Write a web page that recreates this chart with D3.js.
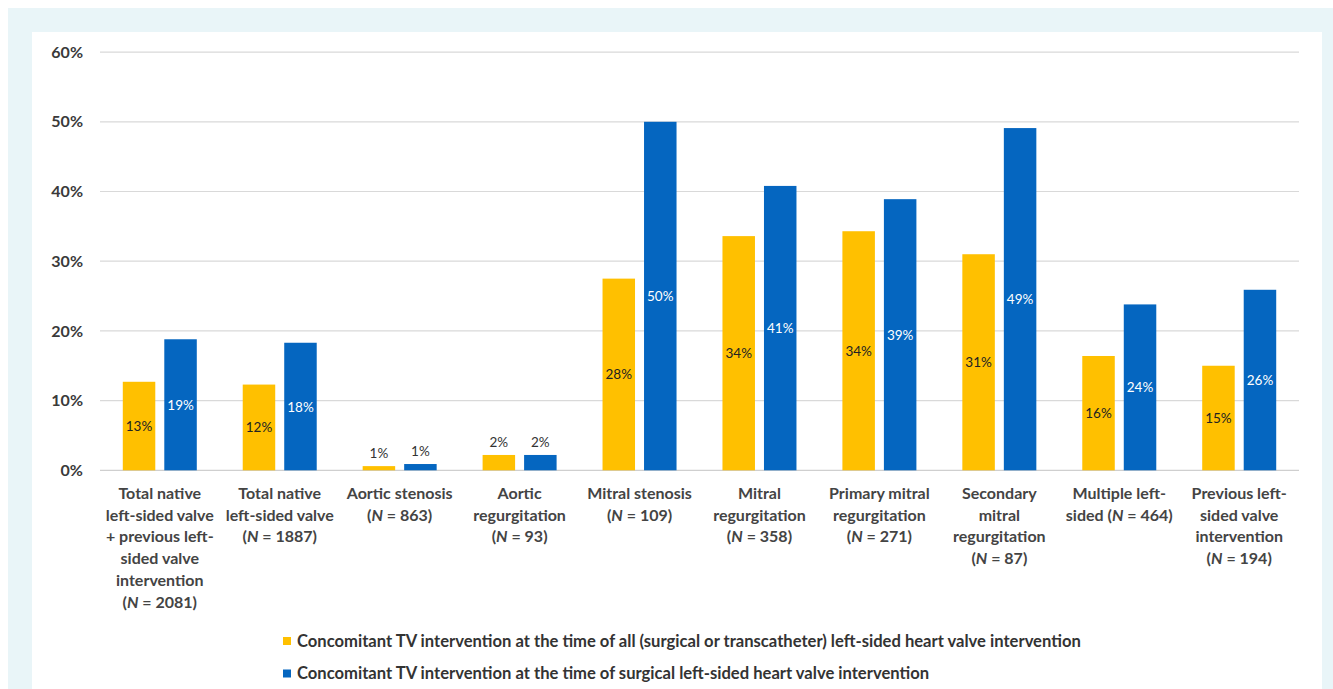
<!DOCTYPE html>
<html lang="en">
<head>
<meta charset="UTF-8">
<title>Concomitant TV intervention</title>
<script src="https://d3js.org/d3.v7.min.js"></script>
<style>
    html, body {
        margin: 0;
        padding: 0;
        background: #fff;
    }
    svg text {
        font-family: 'Lato', 'Open Sans', sans-serif;
    }
</style>
</head>
<body>
<div id="chart"></div>
<script>

// data
var categories = [
    ["Total native", "left-sided valve", "+ previous left-", "sided valve", "intervention", "(N = 2081)"],
    ["Total native", "left-sided valve", "(N = 1887)"],
    ["Aortic stenosis", "(N = 863)"],
    ["Aortic", "regurgitation", "(N = 93)"],
    ["Mitral stenosis", "(N = 109)"],
    ["Mitral", "regurgitation", "(N = 358)"],
    ["Primary mitral", "regurgitation", "(N = 271)"],
    ["Secondary", "mitral", "regurgitation", "(N = 87)"],
    ["Multiple left-", "sided (N = 464)"],
    ["Previous left-", "sided valve", "intervention", "(N = 194)"]
];
var allValues = [12.7, 12.3, 0.6, 2.2, 27.5, 33.6, 34.3, 31.0, 16.4, 15.0];
var surgicalValues = [18.8, 18.3, 0.9, 2.2, 50.0, 40.8, 38.9, 49.1, 23.8, 25.9];
var valueLabels = [
    ["13%", "12%", "1%", "2%", "28%", "34%", "34%", "31%", "16%", "15%"],
    ["19%", "18%", "1%", "2%", "50%", "41%", "39%", "49%", "24%", "26%"]
];
var seriesNames = [
    "Concomitant TV intervention at the time of all (surgical or transcatheter) left-sided heart valve intervention",
    "Concomitant TV intervention at the time of surgical left-sided heart valve intervention"
];
var seriesColors = ["#ffc000", "#0566c0"];
var yTicks = [0, 10, 20, 30, 40, 50, 60];
var yTickLabels = ["0%", "10%", "20%", "30%", "40%", "50%", "60%"];

var W = 1333, H = 689;

var svg = d3.select('#chart')
    .append('svg')
    .attr('width', W)
    .attr('height', H);

// frame
svg.append('rect')
    .attr('x', 8).attr('y', 8)
    .attr('width', W - 8).attr('height', H - 8)
    .attr('fill', '#e9f5f8');
svg.append('rect')
    .attr('x', 32).attr('y', 32)
    .attr('width', 1290).attr('height', H - 32)
    .attr('fill', '#fff');

var x0 = d3.scaleBand()
    .domain(d3.range(categories.length))
    .range([100, 1299])
    .paddingInner(0.383)
    .paddingOuter(0.19);

var x1 = d3.scaleBand()
    .domain([0, 1])
    .range([0, x0.bandwidth()])
    .paddingInner(0.217);

var y = d3.scaleLinear()
    .domain([0, 60])
    .range([470.3, 52.1]);

// gridlines
svg.append('g')
    .selectAll('line')
    .data(yTicks)
    .enter()
    .append('line')
    .attr('x1', 100)
    .attr('x2', 1299)
    .attr('y1', function(d) { return y(d); })
    .attr('y2', function(d) { return y(d); })
    .attr('stroke', function(d) { return d == 0 ? '#cfcfcf' : '#d9d9d9'; })
    .attr('stroke-width', 1.2);

// y axis labels
var yAxis = d3.axisLeft(y)
    .tickValues(yTicks)
    .tickFormat(function(d, i) { return yTickLabels[i]; })
    .tickSize(0)
    .tickPadding(0);

var gy = svg.append('g')
    .attr('transform', 'translate(83,0)')
    .call(yAxis);
gy.select('.domain').remove();
gy.selectAll('text')
    .attr('font-size', 16)
    .attr('font-weight', 700)
    .attr('fill', '#3a3a3a')
    .attr('font-family', 'Lato, sans-serif');

// bars
var series = [allValues, surgicalValues];
var groups = svg.append('g')
    .selectAll('g')
    .data(series)
    .enter()
    .append('g')
    .attr('fill', function(d, s) { return seriesColors[s]; });

groups.each(function(vals, s) {
    var g = d3.select(this);
    g.selectAll('rect')
        .data(vals)
        .enter()
        .append('rect')
        .attr('x', function(d, i) { return x0(i) + x1(s); })
        .attr('y', function(d) { return y(d); })
        .attr('width', x1.bandwidth())
        .attr('height', function(d) { return y(0) - y(d); });

    g.selectAll('text')
        .data(vals)
        .enter()
        .append('text')
        .attr('x', function(d, i) { return x0(i) + x1(s) + x1.bandwidth() / 2; })
        .attr('y', function(d) {
            var h = y(0) - y(d);
            return h > 30 ? y(d) + h / 2 + 5 : y(d) - 8;
        })
        .attr('text-anchor', 'middle')
        .attr('font-size', 13.5)
        .attr('font-family', "'Liberation Sans', sans-serif")
        .attr('fill', function(d) {
            var h = y(0) - y(d);
            if (h <= 30) return '#333';
            return s == 0 ? '#222' : '#fff';
        })
        .text(function(d, i) { return valueLabels[s][i]; });
});

// x axis category labels
var xl = svg.append('g')
    .selectAll('text')
    .data(categories)
    .enter()
    .append('text')
    .attr('text-anchor', 'middle')
    .attr('font-size', 16)
    .attr('font-weight', 700)
    .attr('fill', '#444');

xl.each(function(lines, i) {
    var t = d3.select(this);
    var cx = x0(i) + x0.bandwidth() / 2;
    lines.forEach(function(line, j) {
        var m = line.match(/^(.*)\(N = (\d+)\)$/);
        var ln = t.append('tspan')
            .attr('x', cx)
            .attr('y', 499 + j * 21.7);
        if (m) {
            ln.text(m[1] + '(');
            t.append('tspan').attr('font-style', 'italic').text('N');
            t.append('tspan').text(' = ' + m[2] + ')');
        } else {
            ln.text(line);
        }
    });
});

// legend
var lg = svg.append('g')
    .selectAll('g')
    .data(seriesNames)
    .enter()
    .append('g')
    .attr('transform', function(d, i) { return 'translate(283,' + (637 + i * 32.5) + ')'; });

lg.append('rect')
    .attr('width', 8)
    .attr('height', 8)
    .attr('fill', function(d, i) { return seriesColors[i]; });

lg.append('text')
    .attr('x', 14)
    .attr('y', 9.5)
    .attr('font-size', 16.6)
    .attr('font-weight', 700)
    .attr('fill', '#333')
    .text(function(d) { return d; });

</script>
</body>
</html>
